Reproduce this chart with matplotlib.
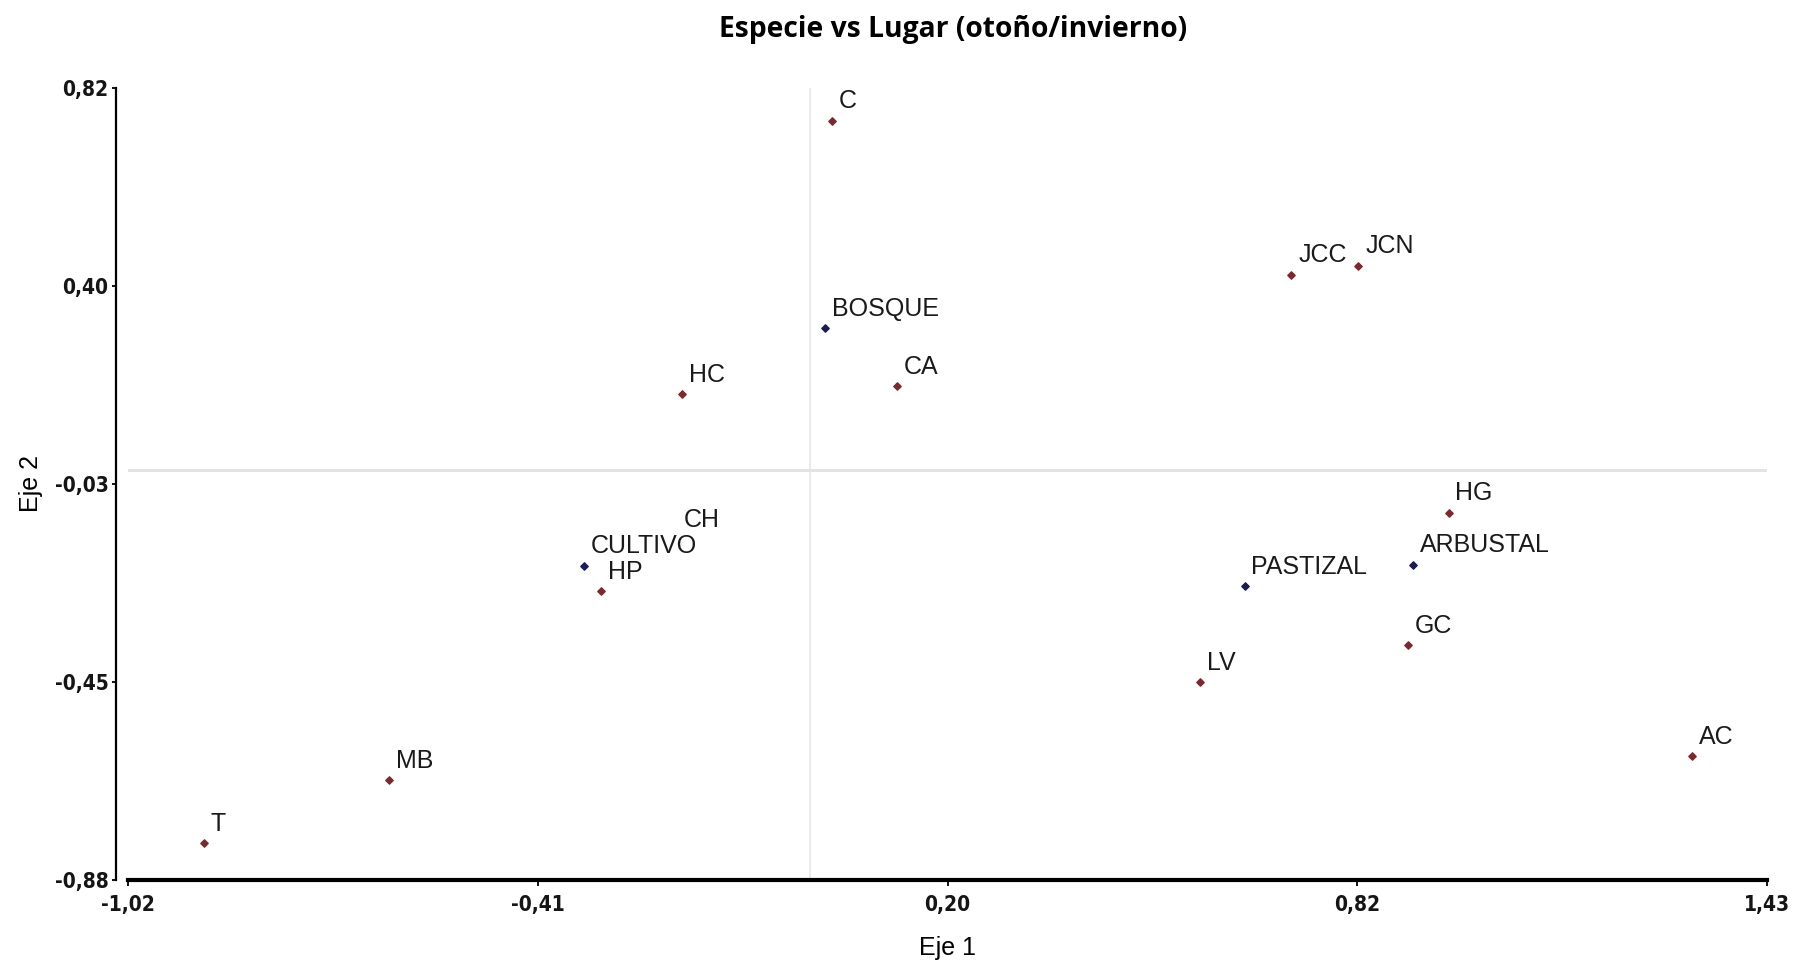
import numpy as np
import matplotlib.pyplot as plt

# Datos
especies = ["C", "HC", "CA", "JCC", "JCN", "HG", "GC", "LV", "AC", "MB", "T", "HP", "CH"]
esp_x = [0.032, -0.192, 0.129, 0.719, 0.819, 0.954, 0.893, 0.582, 1.318, -0.630, -0.907, -0.313, -0.199]
esp_y = [0.750, 0.163, 0.180, 0.419, 0.438, -0.092, -0.376, -0.456, -0.614, -0.666, -0.801, -0.260, -0.150]

lugares = ["BOSQUE", "ARBUSTAL", "PASTIZAL", "CULTIVO"]
lug_x = [0.022, 0.901, 0.649, -0.338]
lug_y = [0.304, -0.203, -0.250, -0.205]

xticks_lab = ["-1,02", "-0,41", "0,20", "0,82", "1,43"]
yticks_lab = ["-0,88", "-0,45", "-0,03", "0,40", "0,82"]

rojo = "#7a2a2e"
azul = "#1c1c55"
fuente = ["Liberation Sans", "DejaVu Sans"]

fig = plt.figure(figsize=(18.01, 9.65), dpi=100)
ax = fig.add_axes([0.0711, 0.0881, 0.9100, 0.8207])

# ejes (la posicion del spine resetea los ticks, asi que va primero)
ax.spines["top"].set_visible(False)
ax.spines["right"].set_visible(False)
ax.spines["left"].set_linewidth(1.6)
ax.spines["left"].set_position(("outward", 9))
ax.spines["bottom"].set_linewidth(3)

ax.axvline(0, color="#e8e8e8", lw=1.2, zorder=0)
ax.axhline(0, color="#e3e3e3", lw=2.2, zorder=0)

ax.scatter(esp_x, esp_y, marker="D", s=14, color=rojo, zorder=2)
ax.scatter(lug_x, lug_y, marker="D", s=14, color=azul, zorder=2)

# Etiquetas con fondo blanco (tapan a las vecinas como en el original)
for nom, x, y in list(zip(especies, esp_x, esp_y)) + list(zip(lugares, lug_x, lug_y)):
    ax.annotate(nom, (x, y), xytext=(5, 9), textcoords="offset points",
                fontsize=18, family=fuente, color="#1a1a1a",
                bbox=dict(facecolor="white", edgecolor="none", pad=0.5), zorder=3)

ax.set_xlim(-1.02, 1.43)
ax.set_ylim(-0.88, 0.82)

tick_font = dict(family="DejaVu Sans", stretch="condensed", weight="bold",
                 size=15, color="#151515")
ax.set_xticks(np.linspace(-1.02, 1.43, 5))
ax.set_xticklabels(xticks_lab, fontdict=tick_font)
ax.set_yticks(np.linspace(-0.88, 0.82, 5))
ax.set_yticklabels(yticks_lab, fontdict=tick_font)

ax.tick_params(axis="x", length=4.5, width=1.3, pad=6)
ax.tick_params(axis="y", length=3, width=1.3, pad=2)

ax.set_xlabel("Eje 1", fontsize=18, family=fuente)
ax.set_ylabel("Eje 2", fontsize=18, family=fuente)
ax.xaxis.set_label_coords(0.5, -0.071)
ax.yaxis.set_label_coords(-0.052, 0.5)

fig.suptitle("Especie vs Lugar (otoño/invierno)", x=0.529, y=0.984,
             fontsize=20.3, fontweight="bold", family=["Open Sans", "DejaVu Sans"])

fig.savefig("out.png", dpi=100)
